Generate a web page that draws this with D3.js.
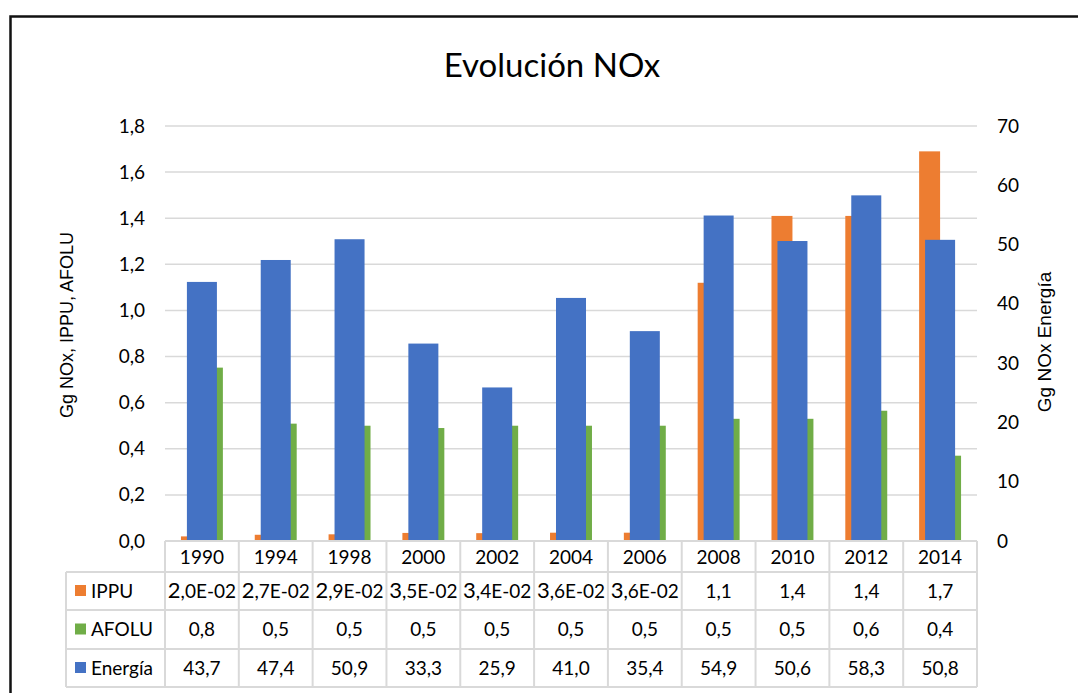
<!DOCTYPE html>
<html>

<head>
    <meta charset="utf-8">
    <title>Evolución NOx</title>
    <script src="https://cdn.jsdelivr.net/npm/d3@7"></script>
    <style>
        body { margin: 0; background: #fff; }
        text { font-family: Lato, "Open Sans", sans-serif; fill: #000; }
        .axt { font-family: "Liberation Sans", Arial, sans-serif; }
    </style>
</head>

<body>
    <script>
    // data
    var years = ['1990', '1994', '1998', '2000', '2002', '2004', '2006', '2008', '2010', '2012', '2014'];
    var ippu = [0.020, 0.027, 0.029, 0.035, 0.034, 0.036, 0.036, 1.12, 1.41, 1.41, 1.69];
    var afolu = [0.752, 0.509, 0.50, 0.49, 0.50, 0.50, 0.50, 0.53, 0.53, 0.565, 0.37];
    var energia = [43.7, 47.4, 50.9, 33.3, 25.9, 41.0, 35.4, 54.9, 50.6, 58.3, 50.8];
    var leftTicks = [0, 0.2, 0.4, 0.6, 0.8, 1.0, 1.2, 1.4, 1.6, 1.8];
    var rightTicks = [0, 10, 20, 30, 40, 50, 60, 70];
    var seriesNames = ['IPPU', 'AFOLU', 'Energía'];
    var colors = { 'IPPU': '#ED7D31', 'AFOLU': '#70AD47', 'Energía': '#4472C4' };

    var W = 1078, H = 693;
    var plotLeft = 165, plotRight = 977, plotTop = 126, base = 541;
    var tableLeft = 66;
    var rowEdges = [541, 572, 610, 649, 687];
    var fs = 19;

    var svg = d3.select('body').append('svg')
        .attr('width', W)
        .attr('height', H);

    // outer frame (only top and left visible)
    svg.append('path')
        .attr('d', 'M10.5,' + H + 'V16.5H' + W)
        .attr('fill', 'none')
        .attr('stroke', '#111')
        .attr('stroke-width', 2.5);

    var x = d3.scaleBand().domain(years).range([plotLeft, plotRight]).padding(0);
    var yL = d3.scaleLinear().domain([0, 1.8]).range([base, plotTop]);
    var yR = d3.scaleLinear().domain([0, 70]).range([base, plotTop]);
    var xPrim = d3.scaleBand().domain(['IPPU', 'AFOLU']).range([0, x.bandwidth()])
        .paddingInner(0).paddingOuter(0.76);
    var xSec = d3.scaleBand().domain(['Energía']).range([0, x.bandwidth()])
        .paddingInner(0).paddingOuter(0.73);

    // gridlines
    svg.append('g').selectAll('line')
        .data(leftTicks)
        .enter()
        .append('line')
        .attr('x1', plotLeft)
        .attr('x2', plotRight)
        .attr('y1', function(d) { return yL(d); })
        .attr('y2', function(d) { return yL(d); })
        .attr('stroke', '#d9d9d9')
        .attr('stroke-width', 1.5);

    // axis labels
    var fmt1 = function(v) { return d3.format('.1f')(v).replace('.', ','); };
    var axL = d3.axisLeft(yL).tickValues(leftTicks).tickSize(0).tickPadding(0).tickFormat(fmt1);
    var gL = svg.append('g').attr('transform', 'translate(145,0)').call(axL);
    gL.select('.domain').remove();
    gL.selectAll('text').attr('font-size', fs).attr('font-family', 'Lato').attr('fill', '#000');

    var axR = d3.axisRight(yR).tickValues(rightTicks).tickSize(0).tickPadding(0).tickFormat(d3.format('d'));
    var gR = svg.append('g').attr('transform', 'translate(997,0)').call(axR);
    gR.select('.domain').remove();
    gR.selectAll('text').attr('font-size', fs).attr('font-family', 'Lato').attr('fill', '#000');

    // primary bars
    var prim = [
        { name: 'IPPU', vals: ippu },
        { name: 'AFOLU', vals: afolu }
    ];
    prim.forEach(function(s) {
        svg.append('g').selectAll('rect')
            .data(s.vals)
            .enter()
            .append('rect')
            .attr('x', function(d, i) { return x(years[i]) + xPrim(s.name); })
            .attr('width', xPrim.bandwidth())
            .attr('y', function(d) { return yL(d); })
            .attr('height', function(d) { return base - yL(d); })
            .attr('fill', colors[s.name]);
    });

    // secondary bars on top
    svg.append('g').selectAll('rect')
        .data(energia)
        .enter()
        .append('rect')
        .attr('x', function(d, i) { return x(years[i]) + xSec('Energía'); })
        .attr('width', xSec.bandwidth())
        .attr('y', function(d) { return yR(d); })
        .attr('height', function(d) { return base - yR(d); })
        .attr('fill', colors['Energía']);

    // data table
    var grid = svg.append('g').attr('stroke', '#d9d9d9').attr('stroke-width', 2);
    rowEdges.forEach(function(y, k) {
        grid.append('line')
            .attr('x1', k === 0 ? plotLeft : tableLeft)
            .attr('x2', plotRight)
            .attr('y1', y).attr('y2', y);
    });
    years.concat(['end']).forEach(function(yr, i) {
        var xx = i < years.length ? x(yr) : plotRight;
        grid.append('line')
            .attr('x1', xx).attr('x2', xx)
            .attr('y1', rowEdges[0]).attr('y2', rowEdges[4]);
    });
    grid.append('line')
        .attr('x1', tableLeft).attr('x2', tableLeft)
        .attr('y1', rowEdges[1]).attr('y2', rowEdges[4]);

    svg.append('g').selectAll('text')
        .data(years)
        .enter()
        .append('text')
        .attr('x', function(d) { return x(d) + x.bandwidth() / 2; })
        .attr('y', (rowEdges[0] + rowEdges[1]) / 2 + 1)
        .attr('dy', '0.35em')
        .attr('text-anchor', 'middle')
        .attr('font-size', fs)
        .text(function(d) { return d; });

    // number format like Excel: small numbers in exponent form
    function cellText(v) {
        if (v < 0.1) {
            var e = Math.floor(Math.log10(v));
            var m = v / Math.pow(10, e);
            var es = (e < 0 ? '-' : '+') + d3.format('02d')(Math.abs(e));
            return { lead: fmt1(m).charAt(0), rest: fmt1(m).slice(1) + 'E' + es };
        }
        return { lead: '', rest: fmt1(v) };
    }

    var rows = [
        { name: 'IPPU', vals: ippu },
        { name: 'AFOLU', vals: afolu },
        { name: 'Energía', vals: energia }
    ];
    rows.forEach(function(r, k) {
        var cy = (rowEdges[k + 1] + rowEdges[k + 2]) / 2;
        svg.append('rect')
            .attr('x', 75).attr('y', cy - 6)
            .attr('width', 11).attr('height', 11)
            .attr('fill', colors[r.name]);
        svg.append('text')
            .attr('x', 91).attr('y', cy)
            .attr('dy', '0.35em')
            .attr('font-size', fs)
            .text(r.name);
        var t = svg.append('g').selectAll('text')
            .data(r.vals)
            .enter()
            .append('text')
            .attr('x', function(d, i) { return x(years[i]) + x.bandwidth() / 2; })
            .attr('y', cy)
            .attr('dy', '0.35em')
            .attr('text-anchor', 'middle')
            .attr('font-size', fs);
        t.each(function(d) {
            var c = cellText(d);
            var el = d3.select(this);
            if (c.lead) el.append('tspan').attr('font-size', 22).text(c.lead);
            el.append('tspan').text(c.rest);
        });
    });

    // title and axis titles
    svg.append('text')
        .attr('x', 552).attr('y', 77)
        .attr('text-anchor', 'middle')
        .attr('font-size', 33)
        .text('Evolución NOx');

    svg.append('text')
        .attr('class', 'axt')
        .attr('transform', 'translate(73,325) rotate(-90)')
        .attr('text-anchor', 'middle')
        .attr('font-size', 18)
        .text('Gg NOx, IPPU, AFOLU');

    svg.append('text')
        .attr('class', 'axt')
        .attr('transform', 'translate(1051,342) rotate(-90)')
        .attr('text-anchor', 'middle')
        .attr('font-size', 19)
        .text('Gg NOx Energía');
    </script>
</body>

</html>
